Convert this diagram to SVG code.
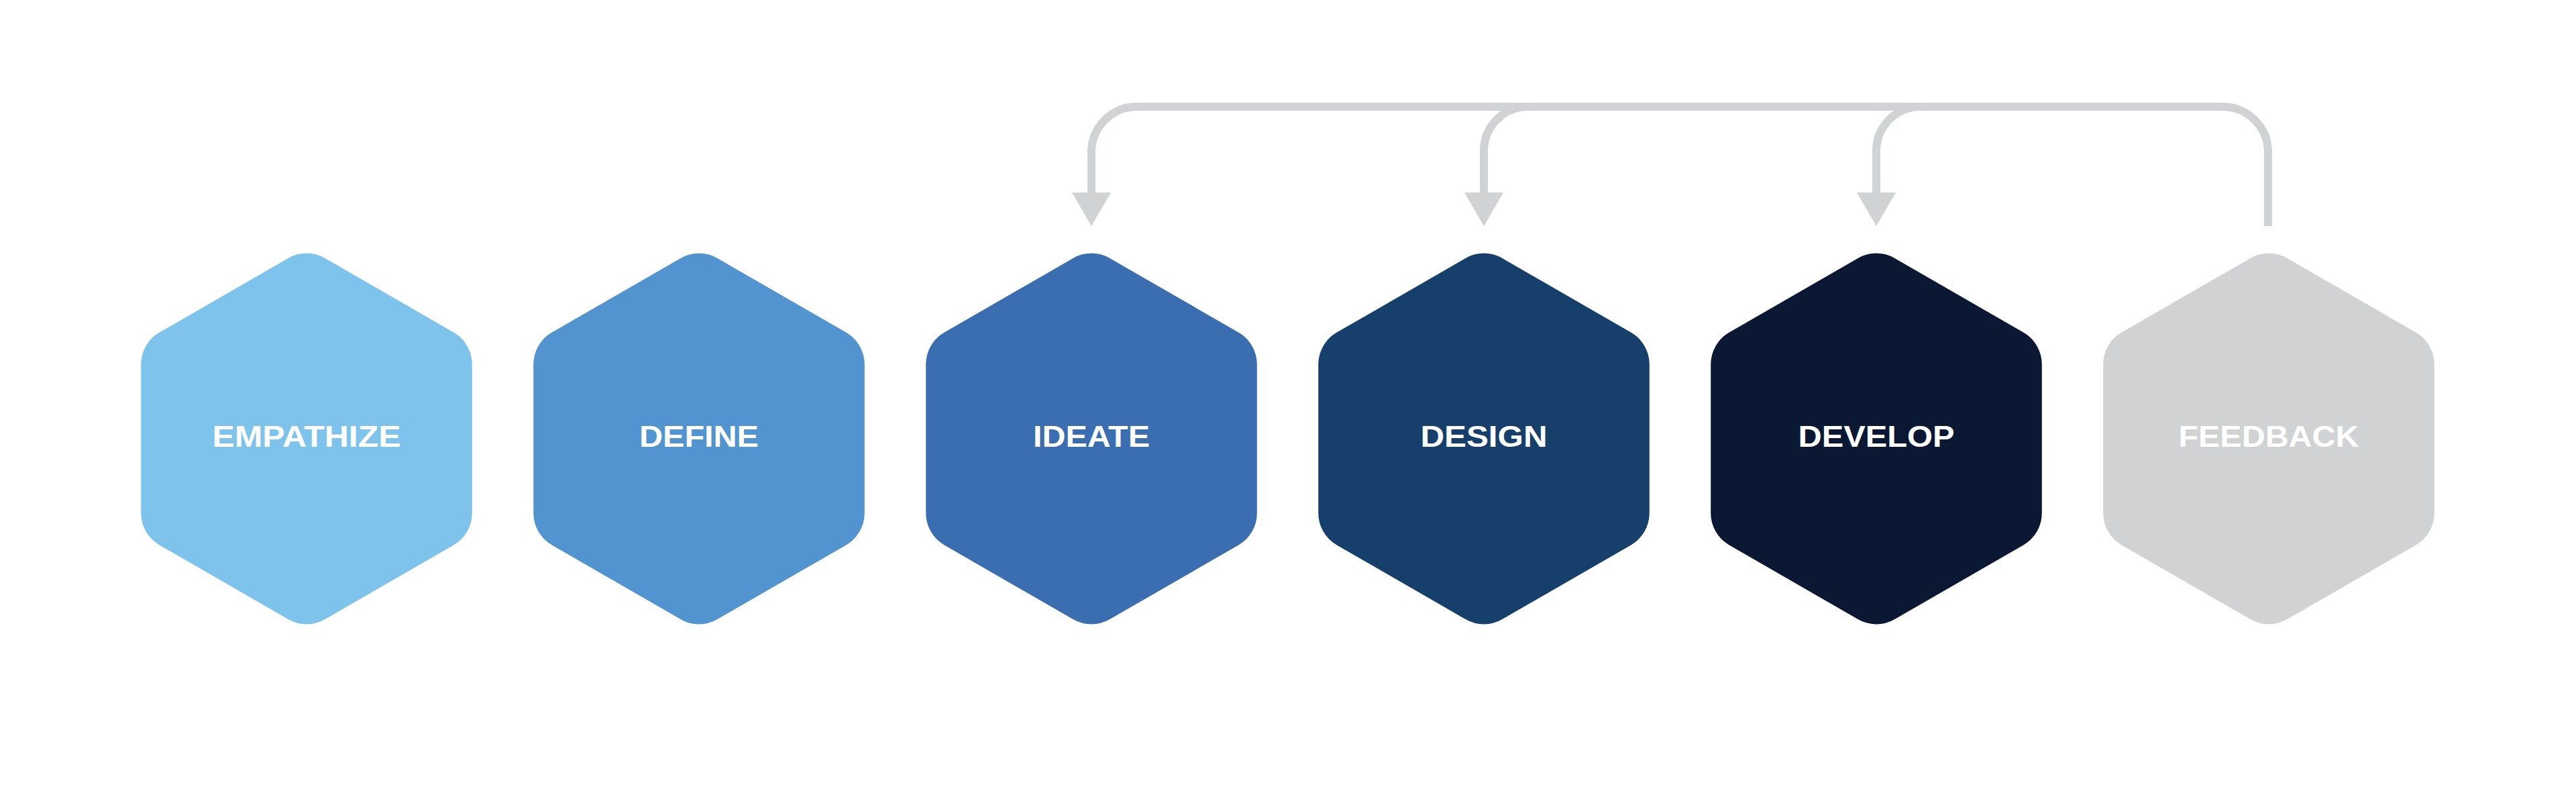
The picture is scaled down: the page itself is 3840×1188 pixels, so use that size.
<svg xmlns="http://www.w3.org/2000/svg" xmlns:xlink="http://www.w3.org/1999/xlink" width="3840" height="1188" viewBox="0 0 3840 1188">
  <style>
    .label { font-family: "Liberation Sans", Arial, sans-serif; font-weight: 700; font-size: 44px; fill: #FFFFFF; text-anchor: middle; }
    .conn { fill: none; stroke: #D1D2D4; stroke-width: 12; }
    .head { fill: #D1D2D4; }
  </style>
  <defs>
    <path id="hex" d="M -27.5,-269.1 A 55 55 0 0 1 27.5,-269.1 L 219.3,-158.4 A 55 55 0 0 1 246.8,-110.75 L 246.8,110.75 A 55 55 0 0 1 219.3,158.4 L 27.5,269.1 A 55 55 0 0 1 -27.5,269.1 L -219.3,158.4 A 55 55 0 0 1 -246.8,110.75 L -246.8,-110.75 A 55 55 0 0 1 -219.3,-158.4 Z"/>
  </defs>
  <rect width="3840" height="1188" fill="#FFFFFF"/>

  <g id="connectors">
    <path class="conn" d="M 3381 337 V 227 A 68 68 0 0 0 3313 159 H 1695 A 68 68 0 0 0 1627 227 V 288"/>
    <path class="conn" d="M 2278 159 A 66 66 0 0 0 2212 225 V 288"/>
    <path class="conn" d="M 2863 159 A 66 66 0 0 0 2797 225 V 288"/>
    <polygon class="head" points="1598,287 1656,287 1627,337"/>
    <polygon class="head" points="2183,287 2241,287 2212,337"/>
    <polygon class="head" points="2768,287 2826,287 2797,337"/>
  </g>

  <g id="node-empathize">
    <use xlink:href="#hex" href="#hex" transform="translate(457,654)" fill="#7DC3EC"/>
    <text class="label" x="457" y="666" textLength="281" lengthAdjust="spacingAndGlyphs">EMPATHIZE</text>
  </g>
  <g id="node-define">
    <use xlink:href="#hex" href="#hex" transform="translate(1042,654)" fill="#5294CF"/>
    <text class="label" x="1042" y="666" textLength="178" lengthAdjust="spacingAndGlyphs">DEFINE</text>
  </g>
  <g id="node-ideate">
    <use xlink:href="#hex" href="#hex" transform="translate(1627,654)" fill="#3B6EB0"/>
    <text class="label" x="1627" y="666" textLength="174" lengthAdjust="spacingAndGlyphs">IDEATE</text>
  </g>
  <g id="node-design">
    <use xlink:href="#hex" href="#hex" transform="translate(2212,654)" fill="#16406B"/>
    <text class="label" x="2212" y="666" textLength="189" lengthAdjust="spacingAndGlyphs">DESIGN</text>
  </g>
  <g id="node-develop">
    <use xlink:href="#hex" href="#hex" transform="translate(2797,654)" fill="#0A1833"/>
    <text class="label" x="2797" y="666" textLength="233" lengthAdjust="spacingAndGlyphs">DEVELOP</text>
  </g>
  <g id="node-feedback">
    <use xlink:href="#hex" href="#hex" transform="translate(3382,654)" fill="#D1D2D4"/>
    <text class="label" x="3382" y="666" textLength="269" lengthAdjust="spacingAndGlyphs">FEEDBACK</text>
  </g>
</svg>
